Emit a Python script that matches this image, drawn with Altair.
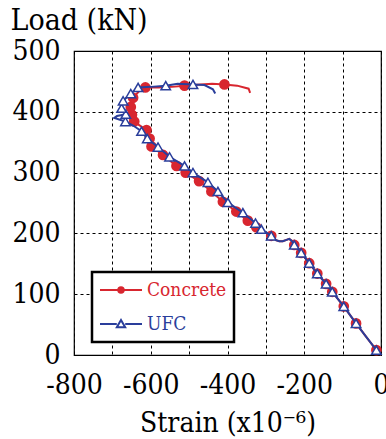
import altair as alt
import pandas as pd

# Load–strain curves (strain in x10^-6, load in kN); marker = 1 where a symbol is drawn
concrete_x = [0, -12, -40, -65, -97, -127, -143, -166, -187, -208, -226, -233, -239, -248, -256,
              -265, -274, -286, -305, -325, -347, -377, -412, -442, -474, -509, -533, -568, -598,
              -603, -611, -630, -643, -649, -652, -646, -630, -614, -580, -545, -512, -470, -440,
              -408, -375, -345, -341]
concrete_y = [0, 8, 31, 52, 80, 104, 117, 134, 151, 168, 181, 188, 191, 189, 187,
              187, 189, 196, 203, 210, 221, 236, 252, 269, 286, 300, 311, 329, 343,
              356, 370, 378, 384, 395, 408, 423, 434, 440, 440, 441, 443, 445, 446,
              445, 443, 438, 431]
concrete_marker = [0, 1, 0, 1, 1, 1, 1, 1, 1, 1, 1, 0, 0, 0, 0,
                   0, 0, 1, 0, 1, 1, 1, 1, 1, 1, 1, 1, 1, 1,
                   1, 1, 0, 1, 1, 1, 1, 0, 1, 0, 0, 1, 0, 0,
                   1, 0, 0, 0]

ufc_x = [0, -12, -40, -65, -97, -127, -143, -166, -187, -208, -226, -233, -239, -248, -256,
         -265, -274, -286, -312, -327, -360, -399, -425, -451, -490, -512, -551, -581, -609,
         -624, -645, -666, -695, -688, -665, -676, -672, -652, -633, -600, -561, -530, -490,
         -460, -438, -432]
ufc_y = [0, 8, 31, 52, 80, 104, 117, 134, 151, 168, 181, 188, 191, 189, 187,
         187, 189, 196, 207, 217, 234, 251, 269, 284, 300, 311, 326, 342, 356,
         368, 377, 384, 390, 393, 396, 406, 418, 430, 440, 441, 443, 446, 445,
         444, 437, 430]
ufc_marker = [0, 1, 0, 1, 1, 1, 1, 1, 1, 1, 1, 0, 0, 0, 0,
              0, 0, 1, 1, 1, 1, 1, 1, 1, 1, 1, 1, 1, 1,
              1, 0, 1, 0, 0, 1, 1, 1, 1, 1, 0, 1, 0, 1,
              0, 0, 0]

series_names = ["Concrete", "UFC"]
series_colors = ["#d8262f", "#2a3e9b"]
x_ticks = list(range(-800, 1, 100))
y_ticks = list(range(0, 501, 100))

RED, BLUE = series_colors
SERIF = "DejaVu Serif Condensed, DejaVu Serif"

# Legend glyphs: a short line with the series symbol in the middle
legend_shapes = [
    "M-1,0H1"
    "M0.13,0A0.13,0.13,0,1,1,-0.13,0A0.13,0.13,0,1,1,0.13,0"
    "M0.05,0A0.05,0.05,0,1,1,-0.05,0A0.05,0.05,0,1,1,0.05,0",
    "M-1,0H-0.2M0.2,0H1M0,-0.19L0.2,0.16L-0.2,0.16Z",
]


def frame(name, xs, ys, marks):
    return pd.DataFrame({"series": name, "strain": xs, "load": ys,
                         "marker": marks, "i": list(range(len(xs)))})


conc = frame("Concrete", concrete_x, concrete_y, concrete_marker)
ufc = frame("UFC", ufc_x, ufc_y, ufc_marker)

x_enc = alt.X(
    "strain:Q",
    scale=alt.Scale(domain=[-800, 0], nice=False, zero=False),
    axis=alt.Axis(
        values=x_ticks,
        labelExpr="datum.value % 200 === 0 ? '' + datum.value : ''",
        labelBaseline="alphabetic",
        labelPadding=38,
        labelFlush=False,
        labelOverlap=False,
        title="Strain (x10⁻⁶)",
        titleFontSize=28,
        titleY=76,
        titleBaseline="alphabetic",
    ),
)
y_enc = alt.Y(
    "load:Q",
    scale=alt.Scale(domain=[0, 500], nice=False),
    axis=alt.Axis(
        values=y_ticks,
        labelExpr="'' + datum.value",
        labelPadding=14,
        labelFlush=False,
        labelOverlap=False,
        title="Load (kN)",
        titleAngle=0,
        titleAlign="left",
        titleBaseline="alphabetic",
        titleX=-64,
        titleY=-22,
    ),
)

line_c = alt.Chart(conc).mark_line(color=RED, strokeWidth=2).encode(
    x=x_enc, y=y_enc, order="i:Q")
pts_c = alt.Chart(conc).transform_filter("datum.marker == 1").mark_point(
    shape="circle", filled=True, color=RED, size=115, opacity=1).encode(x=x_enc, y=y_enc)

line_u = alt.Chart(ufc).mark_line(color=BLUE, strokeWidth=2).encode(
    x=x_enc, y=y_enc, order="i:Q")
pts_u = alt.Chart(ufc).transform_filter("datum.marker == 1").mark_point(
    shape="triangle-up", filled=True, fill="white", stroke=BLUE, strokeWidth=1.5,
    size=90, opacity=1).encode(x=x_enc, y=y_enc)

key = alt.Legend(
    title=None,
    orient="none",
    legendX=18,
    legendY=221,
    padding=7,
    rowPadding=12,
    labelOffset=4,
    clipHeight=22,
    symbolSize=1764,
    symbolStrokeWidth=2,
    labelColor=alt.ExprRef("datum.value === 'UFC' ? '%s' : '%s'" % (BLUE, RED)),
)
legend_df = pd.DataFrame({"series": series_names, "strain": [0, 0], "load": [0, 0]})
legend_layer = alt.Chart(legend_df).transform_filter("false").mark_point(
    filled=False, size=1764, opacity=1, strokeWidth=2).encode(
    x=x_enc,
    y=y_enc,
    color=alt.Color("series:N", scale=alt.Scale(domain=series_names, range=series_colors), legend=key),
    shape=alt.Shape("series:N", scale=alt.Scale(domain=series_names, range=legend_shapes), legend=key),
)

chart = alt.layer(line_c, pts_c, line_u, pts_u, legend_layer).properties(
    width=307,
    height=304,
    autosize=alt.AutoSizeParams(type="none"),
    padding={"left": 74, "top": 51, "right": 5, "bottom": 84},
    background="white",
).configure_view(
    stroke="black", strokeWidth=1.2
).configure_axis(
    labelFont=SERIF, labelFontSize=28, labelColor="black",
    titleFont=SERIF, titleFontSize=30, titleFontWeight="normal", titleColor="black",
    grid=True, gridColor="black", gridDash=[3, 3], gridWidth=1, gridOpacity=1,
    domain=False, ticks=False, tickSize=0,
).configure_legend(
    labelFont=SERIF, labelFontSize=19,
    strokeColor="black", strokeWidth=2.5, fillColor="white",
)

chart.save("out.html", embed_options={"renderer": "svg", "actions": False})
